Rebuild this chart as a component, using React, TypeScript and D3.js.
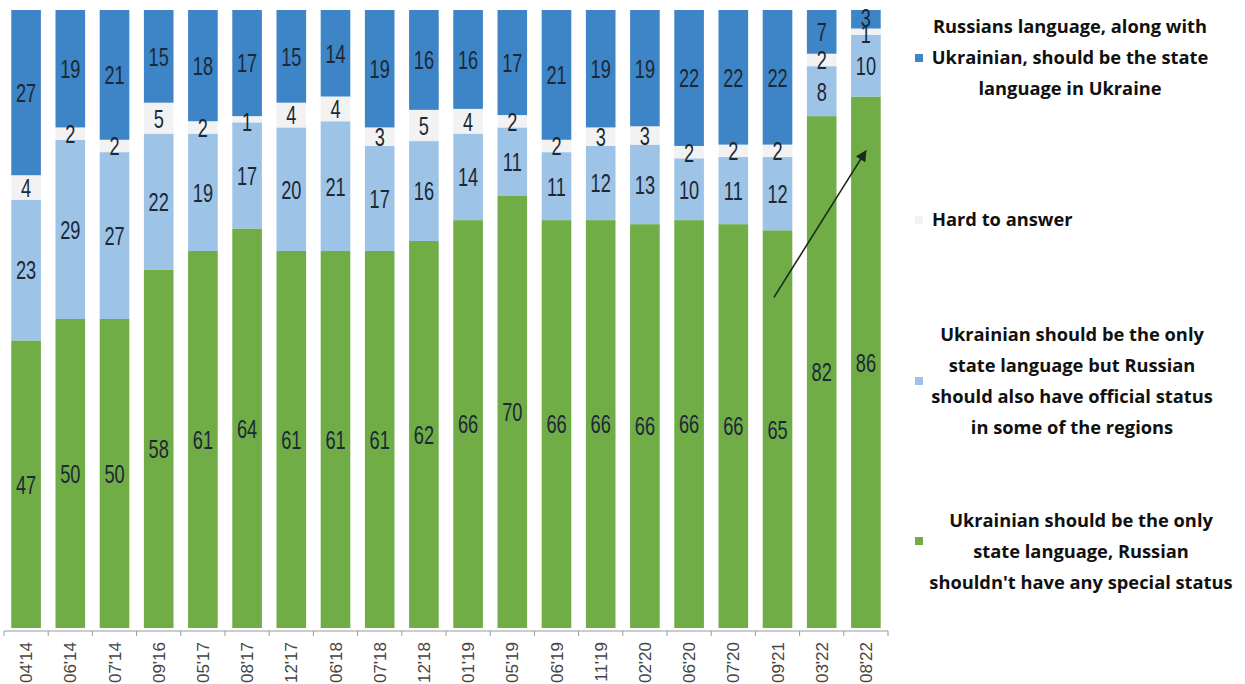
import React from "react";
import * as d3 from "d3";

const periods = ["04'14","06'14","07'14","09'16","05'17","08'17","12'17","06'18","07'18","12'18","01'19","05'19","06'19","11'19","02'20","06'20","07'20","09'21","03'22","08'22"];
const onlyUkrainian = [47,50,50,58,61,64,61,61,61,62,66,70,66,66,66,66,66,65,82,86];
const officialInRegions = [23,29,27,22,19,17,20,21,17,16,14,11,11,12,13,10,11,12,8,10];
const hardToAnswer = [4,2,2,5,2,1,4,4,3,5,4,2,2,3,3,2,2,2,2,1];
const russianState = [27,19,21,15,18,17,15,14,19,16,16,17,21,19,19,22,22,22,7,3];

const seriesKeys = ["only", "regions", "hard", "russian"];
const seriesColors: Record<string, string> = {
  only: "#70ad47",
  regions: "#9dc3e6",
  hard: "#f2f2f2",
  russian: "#3d85c6",
};

const legendItems = [
  { key: "russian", lines: ["Russians language, along with", "Ukrainian, should be the state", "language in Ukraine"], cx: 1070, y0: 27, sqY: 58, center: true },
  { key: "hard", lines: ["Hard to answer"], cx: 932, y0: 220, sqY: 220, center: false },
  { key: "regions", lines: ["Ukrainian should be the only", "state language but Russian", "should also have official status", "in some of the regions"], cx: 1072, y0: 335, sqY: 381, center: true },
  { key: "only", lines: ["Ukrainian should be the only", "state language, Russian", "shouldn't have any special status"], cx: 1081, y0: 521, sqY: 541, center: true },
];

export default function App() {
  const W = 1245, H = 684;
  const top = 10, bottom = 628;
  const rows = periods.map((p, i) => ({
    period: p,
    only: onlyUkrainian[i],
    regions: officialInRegions[i],
    hard: hardToAnswer[i],
    russian: russianState[i],
  }));
  const stacked = d3.stack<any>().keys(seriesKeys).offset(d3.stackOffsetExpand)(rows);
  const x = d3.scaleBand<string>().domain(periods).range([4, 888]).paddingInner(0.33).paddingOuter(0.165);
  const y = d3.scaleLinear().domain([0, 1]).range([bottom, top]);
  const axisY = 631;
  const step = x.step();
  const tickXs = d3.range(periods.length + 1).map((i) => 4 + i * step);

  const arrowStart = { x: (x("09'21") as number) + x.bandwidth() * 0.38, y: y(0.535) };
  const arrowEnd = { x: (x("08'22") as number) + x.bandwidth() * 0.5, y: y(0.772) };

  return (
    <svg width={W} height={H} style={{ position: "absolute", left: 0, top: 0, background: "#fff" }}>
      <defs>
        <marker id="arr" viewBox="0 0 10 10" refX="9" refY="5" markerWidth="7" markerHeight="7" orient="auto-start-reverse">
          <path d="M0,0 L10,5 L0,10 z" fill="#1b2a1b" />
        </marker>
      </defs>
      {stacked.map((s) => (
        <g key={s.key}>
          {s.map((d, i) => (
            <rect
              key={i}
              x={x(periods[i]) as number}
              y={y(d[1])}
              width={x.bandwidth()}
              height={y(d[0]) - y(d[1])}
              fill={seriesColors[s.key]}
            />
          ))}
        </g>
      ))}
      {stacked.map((s) => (
        <g key={"l" + s.key}>
          {s.map((d, i) => {
            const x0 = x(periods[i]) as number;
            const y0 = y(d[1]);
            const h = y(d[0]) - y(d[1]);
            const raw = (rows[i] as any)[s.key];
            let cy = y0 + h / 2;
            if (s.key === "russian" && h < 25) cy -= 2;
            if (s.key === "hard" && h < 10) cy += 2;
            return (
              <text
                key={i}
                transform={`translate(${x0 + x.bandwidth() / 2},${cy}) scale(0.7,1)`}
                dy="0.36em"
                textAnchor="middle"
                fontFamily="'Liberation Sans', Arial, sans-serif"
                fontSize={26}
                fill="#1c2836"
              >
                {raw}
              </text>
            );
          })}
        </g>
      ))}
      <line x1={4} x2={888} y1={axisY} y2={axisY} stroke="#999" strokeWidth={1} />
      {tickXs.map((tx, i) => (
        <line key={i} x1={tx} x2={tx} y1={axisY} y2={axisY + 5} stroke="#999" strokeWidth={1} />
      ))}
      {periods.map((p) => {
        const cx = (x(p) as number) + x.bandwidth() / 2;
        return (
          <text
            key={p}
            transform={`translate(${cx + 6},${642}) rotate(-90) scale(1,0.95)`}
            textAnchor="end"
            fontFamily="'Liberation Sans', Arial, sans-serif"
            fontSize={17}
            fill="#444"
          >
            {p}
          </text>
        );
      })}
      <line x1={arrowStart.x} y1={arrowStart.y} x2={arrowEnd.x} y2={arrowEnd.y} stroke="#1b2a1b" strokeWidth={1.6} markerEnd="url(#arr)" />
      {legendItems.map((it) => (
        <g key={it.key}>
          <rect x={915} y={it.sqY - 4} width={8} height={8} fill={seriesColors[it.key]} />
          {it.lines.map((ln, j) => (
            <text
              key={j}
              x={it.cx}
              y={it.y0 + j * 31}
              dy="0.35em"
              textAnchor={it.center ? "middle" : "start"}
              fontFamily="'Open Sans', 'Noto Sans', sans-serif"
              fontWeight={700}
              fontSize={18.3}
              fill="#111"
            >
              {ln}
            </text>
          ))}
        </g>
      ))}
    </svg>
  );
}
